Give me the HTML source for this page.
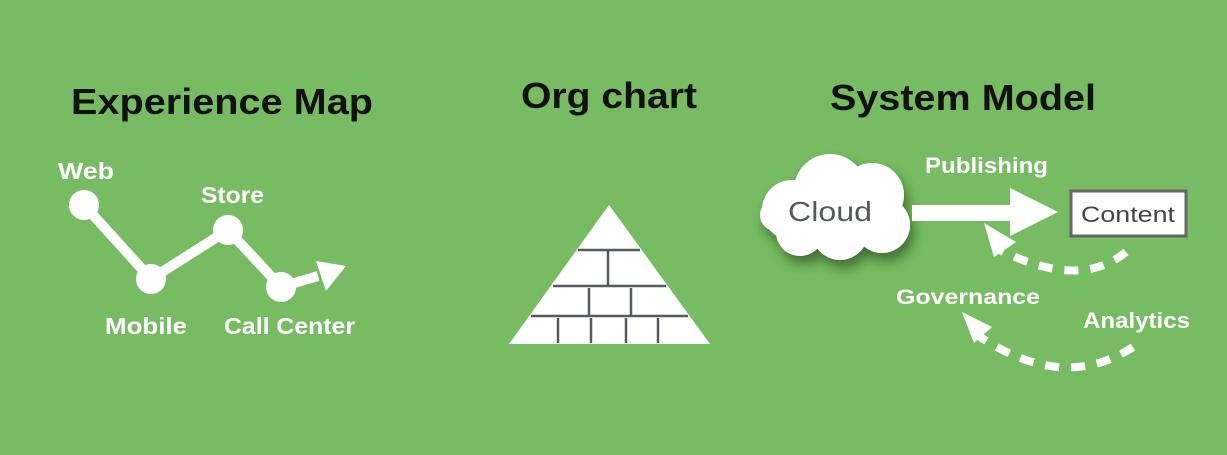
<!DOCTYPE html>
<html><head><style>
html,body{margin:0;padding:0;background:#77bc63;}
svg{display:block;}
text{font-family:"Liberation Sans",sans-serif;}
</style></head><body>
<svg width="1227" height="455" viewBox="0 0 1227 455">
<defs><filter id="sh" x="-30%" y="-30%" width="160%" height="170%"><feDropShadow dx="4" dy="8" stdDeviation="6" flood-color="#1f3d12" flood-opacity="0.6"/></filter></defs>
<rect width="1227" height="455" fill="#77bc63"/>
<g font-weight="bold" font-size="36" fill="#111" text-anchor="middle">
<text x="222" y="114" textLength="302" lengthAdjust="spacingAndGlyphs">Experience Map</text>
<text x="609" y="108" textLength="176" lengthAdjust="spacingAndGlyphs">Org chart</text>
<text x="963" y="110" textLength="266" lengthAdjust="spacingAndGlyphs">System Model</text>
</g>
<g stroke="#fff" stroke-width="10" fill="none" stroke-linejoin="round">
<polyline points="84,205 151,279 228,230 281,287 318,276"/>
</g>
<polygon points="346,266 316,261 326,291" fill="#fff"/>
<g fill="#fff">
<circle cx="84" cy="205" r="15"/><circle cx="151" cy="279" r="15"/>
<circle cx="228" cy="230" r="15"/><circle cx="281" cy="287" r="15"/>
</g>
<g fill="#fff" font-size="23" font-weight="bold">
<text x="58" y="179" textLength="56" lengthAdjust="spacingAndGlyphs">Web</text>
<text x="201" y="203" textLength="63" lengthAdjust="spacingAndGlyphs">Store</text>
<text x="105" y="334" textLength="82" lengthAdjust="spacingAndGlyphs">Mobile</text>
<text x="224" y="334" textLength="131" lengthAdjust="spacingAndGlyphs">Call Center</text>
</g>
<polygon points="609,205 509,344 710,344" fill="#fff"/>
<g stroke="#555a5e" stroke-width="2.5">
<line x1="578" y1="250" x2="640" y2="250"/><line x1="608" y1="250" x2="608" y2="285"/>
<line x1="553" y1="286" x2="666" y2="286"/>
<line x1="589" y1="288" x2="589" y2="315"/><line x1="631" y1="288" x2="631" y2="315"/>
<line x1="531" y1="316" x2="688" y2="316"/>
<line x1="558" y1="318" x2="558" y2="343"/><line x1="591" y1="318" x2="591" y2="343"/>
<line x1="626" y1="318" x2="626" y2="343"/><line x1="658" y1="318" x2="658" y2="343"/>
</g>
<g fill="#fff" filter="url(#sh)">
<circle cx="792" cy="210" r="30"/><circle cx="830" cy="190" r="36"/><circle cx="872" cy="195" r="32"/>
<circle cx="882" cy="225" r="28"/><circle cx="840" cy="232" r="28"/><circle cx="800" cy="232" r="24"/>
<circle cx="776" cy="215" r="16"/>
</g>
<text x="830" y="221" font-size="28" fill="#555a60" text-anchor="middle" textLength="84" lengthAdjust="spacingAndGlyphs">Cloud</text>
<rect x="912" y="205" width="100" height="16" fill="#fff"/>
<polygon points="1010,188 1058,212 1010,236" fill="#fff"/>
<text x="925" y="173" font-size="22" font-weight="bold" fill="#fff" textLength="123" lengthAdjust="spacingAndGlyphs">Publishing</text>
<rect x="1071" y="191" width="115" height="45" fill="#fff" stroke="#666" stroke-width="3"/>
<text x="1128" y="222" font-size="22" fill="#444" text-anchor="middle" textLength="94" lengthAdjust="spacingAndGlyphs">Content</text>
<g stroke="#fff" stroke-width="8" fill="none" stroke-dasharray="14 12">
<path d="M1126,252 Q1080,290 1000,250"/>
<path d="M1133,347 Q1060,395 970,330"/>
</g>
<polygon points="984,223 1016,242 994,257" fill="#fff"/>
<polygon points="962,312 992,327 974,343" fill="#fff"/>
<text x="896" y="304" font-size="21" font-weight="bold" fill="#fff" textLength="144" lengthAdjust="spacingAndGlyphs">Governance</text>
<text x="1083" y="328" font-size="22" font-weight="bold" fill="#fff" textLength="107" lengthAdjust="spacingAndGlyphs">Analytics</text>
</svg>
</body></html>
